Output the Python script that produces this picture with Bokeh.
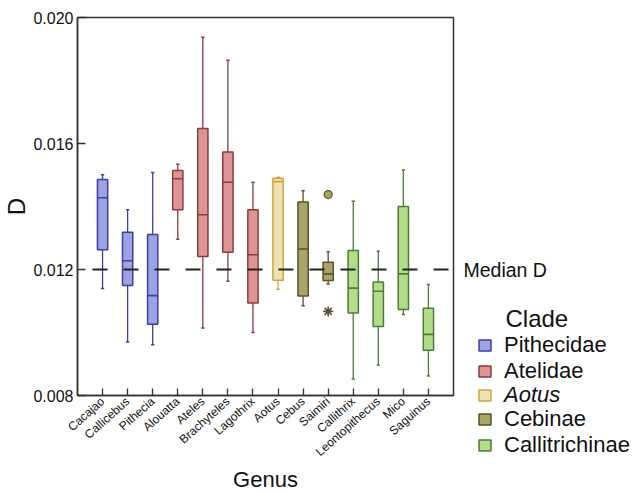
from bokeh.plotting import figure
from bokeh.layouts import row, column
from bokeh.models import (ColumnDataSource, FactorRange, Range1d, Legend, LegendItem, Label, Spacer,
                          FixedTicker, Span, PrintfTickFormatter, CDSView, GroupFilter)
from bokeh.transform import dodge
from bokeh.embed import file_html
from bokeh.resources import INLINE

genus = ["Cacajao", "Callicebus", "Pithecia", "Alouatta", "Ateles", "Brachyteles", "Lagothrix",
         "Aotus", "Cebus", "Saimiri", "Callithrix", "Leontopithecus", "Mico", "Saguinus"]
clade = ["Pithecidae"] * 3 + ["Atelidae"] * 4 + ["Aotus"] + ["Cebinae"] * 2 + ["Callitrichinae"] * 4
lower = [0.01140, 0.00970, 0.00961, 0.01296, 0.01014, 0.01163, 0.01000,
         0.01137, 0.01085, 0.01154, 0.00852, 0.00897, 0.01057, 0.00862]
q1 = [0.01263, 0.01149, 0.01026, 0.01390, 0.01241, 0.01255, 0.01094,
      0.01166, 0.01116, 0.01165, 0.01062, 0.01019, 0.01073, 0.00944]
median = [0.01428, 0.01228, 0.01117, 0.01488, 0.01374, 0.01477, 0.01247,
          0.01479, 0.01265, 0.01186, 0.01141, 0.01131, 0.01186, 0.00994]
q3 = [0.01486, 0.01318, 0.01311, 0.01514, 0.01648, 0.01573, 0.01390,
      0.01490, 0.01414, 0.01223, 0.01260, 0.01160, 0.01400, 0.01077]
upper = [0.01501, 0.01390, 0.01508, 0.01534, 0.01937, 0.01864, 0.01477,
         0.01493, 0.01450, 0.01256, 0.01417, 0.01258, 0.01516, 0.01152]
outlier_genus = ["Saimiri"]
outlier_value = [0.01438]
extreme_genus = ["Saimiri"]
extreme_value = [0.01067]
median_d = 0.0120
y_ticks = [0.008, 0.012, 0.016, 0.020]
clades = ["Pithecidae", "Atelidae", "Aotus", "Cebinae", "Callitrichinae"]
clade_fill = ["#9ca2e2", "#dc9494", "#ece2b4", "#aaa46a", "#b2de8a"]
clade_line = ["#3c40a4", "#8c3b3e", "#d2a53c", "#58532a", "#4e7a3a"]

FONT = "Liberation Sans"
TXT = "#111111"
fill_map = dict(zip(clades, clade_fill))
line_map = dict(zip(clades, clade_line))

# layout (pixels)
TOTAL_H = 493
FR_LEFT, FR_TOP, FR_W, FR_H = 77, 17, 376, 378
P_RIGHT = 2
Q_W = 634 - (FR_LEFT + FR_W + P_RIGHT)
TOP_H = 332          # height of the panel holding "Median D" and "Clade"
LEG_LEFT = 22        # legend swatch indent in the right column
LEG_BOTTOM = 458     # bottom edge of the last legend entry

src = ColumnDataSource(dict(
    genus=genus, clade=clade, lower=lower, q1=q1, median=median, q3=q3, upper=upper,
    fill=[fill_map[c] for c in clade], line=[line_map[c] for c in clade]))

p = figure(x_range=FactorRange(factors=genus, range_padding=0.5, range_padding_units="absolute"),
           y_range=Range1d(y_ticks[0], y_ticks[-1]), title=None,
           frame_width=FR_W, frame_height=FR_H,
           min_border_left=FR_LEFT, min_border_right=P_RIGHT, min_border_top=FR_TOP,
           min_border_bottom=TOTAL_H - FR_TOP - FR_H,
           output_backend="svg", toolbar_location=None)
p.xgrid.visible = False
p.ygrid.visible = False
p.outline_line_color = "#333333"
p.outline_line_width = 1.5

# whiskers
p.segment(x0="genus", y0="lower", x1="genus", y1="q1", source=src, line_color="line", line_width=1.3)
p.segment(x0="genus", y0="q3", x1="genus", y1="upper", source=src, line_color="line", line_width=1.3)
# caps
p.segment(x0=dodge("genus", -0.065, range=p.x_range), y0="lower",
          x1=dodge("genus", 0.065, range=p.x_range), y1="lower", source=src, line_color="line", line_width=1.5)
p.segment(x0=dodge("genus", -0.065, range=p.x_range), y0="upper",
          x1=dodge("genus", 0.065, range=p.x_range), y1="upper", source=src, line_color="line", line_width=1.5)

views = {}
for c in clades:
    views[c] = CDSView(filter=GroupFilter(column_name="clade", group=c))
    p.vbar(x="genus", bottom="q1", top="q3", width=0.41, source=src, view=views[c],
           fill_color=fill_map[c], line_color=line_map[c], line_width=1.5)

# medians
p.segment(x0=dodge("genus", -0.205, range=p.x_range), y0="median",
          x1=dodge("genus", 0.205, range=p.x_range), y1="median", source=src, line_color="line", line_width=1.6)

# outliers
p.scatter(x=outlier_genus, y=outlier_value, size=8, marker="circle",
          fill_color=fill_map["Cebinae"], line_color=line_map["Cebinae"], line_width=1.2)
p.scatter(x=extreme_genus, y=extreme_value, size=10, marker="asterisk",
          line_color=line_map["Cebinae"], line_width=1.6)

# median D line
p.add_layout(Span(location=median_d, dimension="width", line_color="#222222", line_width=1.8,
                  line_dash="15 16", line_dash_offset=16))

# axes
p.yaxis.ticker = FixedTicker(ticks=y_ticks)
p.yaxis.formatter = PrintfTickFormatter(format="%.3f")
p.yaxis.minor_tick_line_color = None
p.yaxis.major_tick_in = 8
p.yaxis.major_tick_out = 0
p.yaxis.major_label_standoff = 4
p.yaxis.axis_label = "D"
p.yaxis.axis_label_standoff = 0
p.yaxis.axis_label_text_font_size = "24px"
p.yaxis.major_label_text_font_size = "16px"

p.xaxis.major_tick_in = 7
p.xaxis.major_tick_out = 0
p.xaxis.major_label_orientation = 0.73
p.xaxis.major_label_standoff = 4
p.xaxis.major_label_text_font_size = "12px"
p.xaxis.axis_label = "Genus"
p.xaxis.axis_label_standoff = 0
p.xaxis.axis_label_text_font_size = "22px"

for ax in (p.xaxis[0], p.yaxis[0]):
    ax.axis_line_color = "#333333"
    ax.axis_line_width = 1.5
    ax.major_tick_line_color = "#333333"
    ax.major_tick_line_width = 1.3
    ax.major_label_text_font = FONT
    ax.axis_label_text_font = FONT
    ax.axis_label_text_font_style = "normal"
    ax.major_label_text_color = TXT
    ax.axis_label_text_color = TXT


def blank_panel(w, h, **kw):
    f = figure(frame_width=w, frame_height=h, x_range=Range1d(0, w), y_range=Range1d(0, h),
               x_axis_location=None, y_axis_location=None, title=None,
               output_backend="svg", toolbar_location=None, **kw)
    f.grid.visible = False
    f.outline_line_color = None
    if "frame_align" in f.properties():
        f.frame_align = False
    return f


# upper right panel: "Median D" and legend heading, in pixel coordinates
q_top = blank_panel(Q_W, TOP_H, min_border_left=0, min_border_right=0, min_border_top=0, min_border_bottom=0)
median_px = FR_TOP + (y_ticks[-1] - median_d) / (y_ticks[-1] - y_ticks[0]) * FR_H
q_top.add_layout(Label(x=8, y=TOP_H - median_px, text="Median D", text_baseline="middle",
                       text_font=FONT, text_font_size="19.5px", text_color=TXT))
q_top.add_layout(Label(x=50, y=TOP_H - 318, text="Clade", text_baseline="middle",
                       text_font=FONT, text_font_size="24px", text_color=TXT))

# lower right panel: legend entries
leg_h = LEG_BOTTOM - TOP_H
q_leg = blank_panel(Q_W - LEG_LEFT, leg_h, min_border_left=0, min_border_right=0,
                    min_border_top=0, min_border_bottom=TOTAL_H - LEG_BOTTOM)
rends = {}
for c in clades:
    # legend swatch renderers reuse the box data; this panel's numeric x scale cannot place genus names
    rends[c] = q_leg.vbar(x="genus", bottom="q1", top="q3", width=0.41, source=src, view=views[c],
                          fill_color=fill_map[c], line_color=line_map[c], line_width=1.5)

groups = [(["Pithecidae", "Atelidae"], "top_left", "normal"),
          (["Aotus"], "center_left", "italic"),
          (["Cebinae", "Callitrichinae"], "bottom_left", "normal")]
for names, loc, style in groups:
    lg = Legend(items=[LegendItem(label=n, renderers=[rends[n]]) for n in names], location=loc,
                padding=0, margin=0, spacing=0, glyph_width=15, glyph_height=14,
                label_standoff=12, label_height=22,
                label_text_font=FONT, label_text_font_size="22px", label_text_color=TXT,
                label_text_font_style=style, label_text_baseline="middle",
                border_line_alpha=0, background_fill_alpha=0)
    q_leg.add_layout(lg)

right_col = column(q_top, row(Spacer(width=LEG_LEFT, height=TOTAL_H - TOP_H), q_leg))
layout = row(p, right_col)
open("out.html", "w").write(file_html(layout, INLINE))
